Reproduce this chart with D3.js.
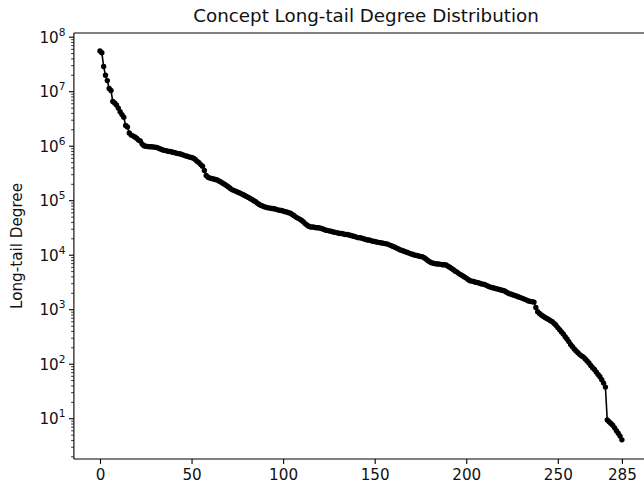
<!DOCTYPE html>
<html>
<head>
<meta charset="utf-8">
<script src="https://cdn.jsdelivr.net/npm/d3@7"></script>
<style>
  html, body { margin: 0; padding: 0; background: #fff; }
  svg { display: block; font-family: "DejaVu Sans", sans-serif; }
</style>
</head>
<body>
<svg id="chart" width="644" height="484"></svg>
<script>
// ---- Data ----
const titleText = "Concept Long-tail Degree Distribution";
const yLabelText = "Long-tail Degree";
const xTickValues = [0, 50, 100, 150, 200, 250, 285];
const yTickExponents = [1, 2, 3, 4, 5, 6, 7, 8];
const degrees = [
  5.6e7, 5.2e7, 2.9e7, 2.0e7, 1.6e7, 1.15e7, 1.05e7, 6.6e6, 6.2e6, 5.7e6,
  5.0e6, 4.3e6, 3.8e6, 3.4e6, 2.4e6, 2.25e6, 1.75e6, 1.6e6, 1.55e6, 1.48e6,
  1.4e6, 1.3e6, 1.25e6, 1.1e6, 1.02e6,
  1.0e6, 9.9e5, 9.8e5, 9.8e5, 9.7e5, 9.6e5, 9.5e5, 9.2e5, 8.9e5, 8.6e5, 8.4e5,
  8.3e5, 8.1e5, 8.0e5, 7.9e5, 7.7e5, 7.6e5, 7.4e5,
  7.3e5, 7.2e5, 7.0e5, 6.8e5, 6.6e5, 6.5e5, 6.3e5, 6.2e5, 6.0e5,
  5.7e5, 5.3e5, 5.0e5, 4.6e5, 4.3e5, 3.6e5, 2.9e5, 2.7e5, 2.6e5,
  2.55e5, 2.5e5, 2.45e5, 2.4e5, 2.3e5, 2.2e5,
  2.1e5, 2.0e5, 1.9e5, 1.8e5, 1.7e5, 1.6e5, 1.55e5, 1.5e5, 1.45e5, 1.4e5,
  1.35e5, 1.3e5, 1.25e5, 1.2e5, 1.15e5, 1.1e5, 1.05e5, 1.0e5, 9.6e4, 9.0e4, 8.5e4, 8.2e4, 7.9e4,
  7.7e4, 7.5e4, 7.4e4, 7.3e4, 7.2e4, 7.1e4, 7.0e4, 6.8e4, 6.7e4, 6.6e4, 6.5e4, 6.3e4, 6.2e4, 6.0e4, 5.9e4,
  5.6e4, 5.3e4, 5.0e4, 4.8e4, 4.6e4, 4.4e4, 4.1e4, 3.8e4, 3.6e4, 3.4e4, 3.3e4,
  3.3e4, 3.25e4, 3.2e4, 3.2e4, 3.15e4, 3.1e4, 3.0e4, 2.9e4, 2.85e4, 2.8e4, 2.75e4, 2.7e4,
  2.65e4, 2.6e4, 2.55e4, 2.5e4, 2.5e4, 2.45e4, 2.4e4, 2.4e4, 2.35e4, 2.3e4, 2.25e4, 2.2e4, 2.15e4, 2.1e4, 2.1e4,
  2.05e4, 2.0e4, 1.95e4, 1.9e4, 1.9e4, 1.85e4, 1.8e4, 1.78e4, 1.75e4, 1.72e4, 1.7e4, 1.68e4, 1.65e4, 1.63e4, 1.6e4,
  1.55e4, 1.5e4, 1.45e4, 1.4e4, 1.35e4, 1.3e4, 1.25e4, 1.22e4, 1.18e4, 1.15e4, 1.12e4, 1.08e4,
  1.05e4, 1.03e4, 1.0e4, 9.9e3, 9.7e3, 9.5e3, 9.4e3, 9.0e3, 8.5e3, 8.0e3, 7.6e3, 7.3e3, 7.1e3,
  7.0e3, 6.9e3, 6.9e3, 6.8e3, 6.7e3, 6.7e3, 6.6e3, 6.3e3, 6.0e3, 5.7e3, 5.4e3, 5.1e3, 4.9e3, 4.6e3,
  4.4e3, 4.2e3, 4.0e3, 3.8e3, 3.6e3, 3.4e3, 3.35e3, 3.3e3, 3.2e3, 3.15e3, 3.1e3, 3.0e3, 2.95e3, 2.9e3, 2.8e3, 2.7e3, 2.6e3,
  2.55e3, 2.5e3, 2.45e3, 2.4e3, 2.35e3, 2.3e3, 2.25e3, 2.2e3, 2.1e3, 2.0e3, 1.95e3, 1.9e3, 1.85e3, 1.8e3, 1.75e3, 1.7e3,
  1.65e3, 1.6e3, 1.55e3, 1.5e3, 1.45e3, 1.42e3, 1.4e3, 1.38e3, 1.1e3, 920, 850, 800, 760, 720, 690,
  660, 630, 600, 560, 520, 470, 430, 390, 360, 320, 290, 260, 230, 210, 190, 175, 162, 150, 142, 135,
  125, 115, 105, 95, 86, 80, 72, 65, 59, 52, 45, 38,
  9.5, 8.8, 8.2, 7.6, 6.8, 6.0, 5.4, 4.8, 4.1
];

// ---- Layout ----
const svg = d3.select("#chart");
const plotLeft = 73.9, plotRight = 648, plotTop = 33, plotBottom = 459;
const majorLen = 4.9, minorLen = 2.8, tickPad = 3.5;
const tickFont = "15.2px", titleFont = "18.3px", supFont = "10.6px";

const n = degrees.length;
const xMargin = (n - 1) * 0.05;
const x = d3.scaleLinear().domain([-xMargin, (n - 1) + xMargin]).range([plotLeft, plotRight]);
const y = d3.scaleLog().domain([Math.pow(10, 0.261), Math.pow(10, 8.077)]).range([plotBottom, plotTop]);

const textColor = "#111";

// Title
svg.append("text")
  .attr("x", 366)
  .attr("y", 22)
  .attr("text-anchor", "middle")
  .attr("font-size", titleFont)
  .attr("fill", textColor)
  .text(titleText);

// Y label
svg.append("text")
  .attr("transform", `translate(21.5,${(plotTop + plotBottom) / 2}) rotate(-90)`)
  .attr("text-anchor", "middle")
  .attr("font-size", tickFont)
  .attr("fill", textColor)
  .text(yLabelText);

// X axis
const xAxis = d3.axisBottom(x)
  .tickValues(xTickValues)
  .tickSizeInner(majorLen)
  .tickSizeOuter(0)
  .tickPadding(tickPad + 1.5)
  .tickFormat(d3.format("d"));
const gx = svg.append("g").attr("transform", `translate(0,${plotBottom})`).call(xAxis);
gx.select(".domain").remove();
gx.selectAll(".tick line").attr("stroke", "#000").attr("stroke-width", 1.1);
gx.selectAll(".tick text")
  .attr("font-size", tickFont)
  .attr("font-family", "DejaVu Sans, sans-serif")
  .attr("fill", textColor);

// Y axis: major ticks with superscript labels, minor log ticks
const gy = svg.append("g").attr("transform", `translate(${plotLeft},0)`);
const minorVals = [];
const [d0, d1] = y.domain();
for (let e = 0; e <= 8; e++) {
  for (let m = 2; m <= 9; m++) {
    const v = m * Math.pow(10, e);
    if (v >= d0 && v <= d1) minorVals.push(v);
  }
}
gy.selectAll("line.minor").data(minorVals).join("line")
  .attr("class", "minor")
  .attr("x1", 0).attr("x2", -minorLen)
  .attr("y1", d => y(d)).attr("y2", d => y(d))
  .attr("stroke", "#000").attr("stroke-width", 0.8);
const majors = yTickExponents.map(e => Math.pow(10, e));
gy.selectAll("line.major").data(majors).join("line")
  .attr("class", "major")
  .attr("x1", 0).attr("x2", -majorLen)
  .attr("y1", d => y(d)).attr("y2", d => y(d))
  .attr("stroke", "#000").attr("stroke-width", 1.1);
const labels = gy.selectAll("text.ylab").data(yTickExponents).join("text")
  .attr("class", "ylab")
  .attr("x", -(majorLen + tickPad))
  .attr("y", e => y(Math.pow(10, e)) + 5.5)
  .attr("text-anchor", "end")
  .attr("font-size", tickFont)
  .attr("fill", textColor);
labels.append("tspan").text("10");
labels.append("tspan")
  .attr("font-size", supFont)
  .attr("dy", -7)
  .text(e => String(e));

// Spines
const spine = (x1, y1, x2, y2) => svg.append("line")
  .attr("x1", x1).attr("y1", y1).attr("x2", x2).attr("y2", y2)
  .attr("stroke", "#000").attr("stroke-width", 1.1);
spine(plotLeft, plotTop, plotLeft, plotBottom);
spine(plotLeft, plotBottom, plotRight, plotBottom);
spine(plotLeft, plotTop, plotRight, plotTop);
spine(plotRight, plotTop, plotRight, plotBottom);

// Line + markers
const line = d3.line().x((d, i) => x(i)).y(d => y(d));
svg.append("path")
  .datum(degrees)
  .attr("d", line)
  .attr("fill", "none")
  .attr("stroke", "#000")
  .attr("stroke-width", 1.6);
svg.append("g").selectAll("circle").data(degrees).join("circle")
  .attr("cx", (d, i) => x(i))
  .attr("cy", d => y(d))
  .attr("r", 2.7)
  .attr("fill", "#000");
</script>
</body>
</html>
